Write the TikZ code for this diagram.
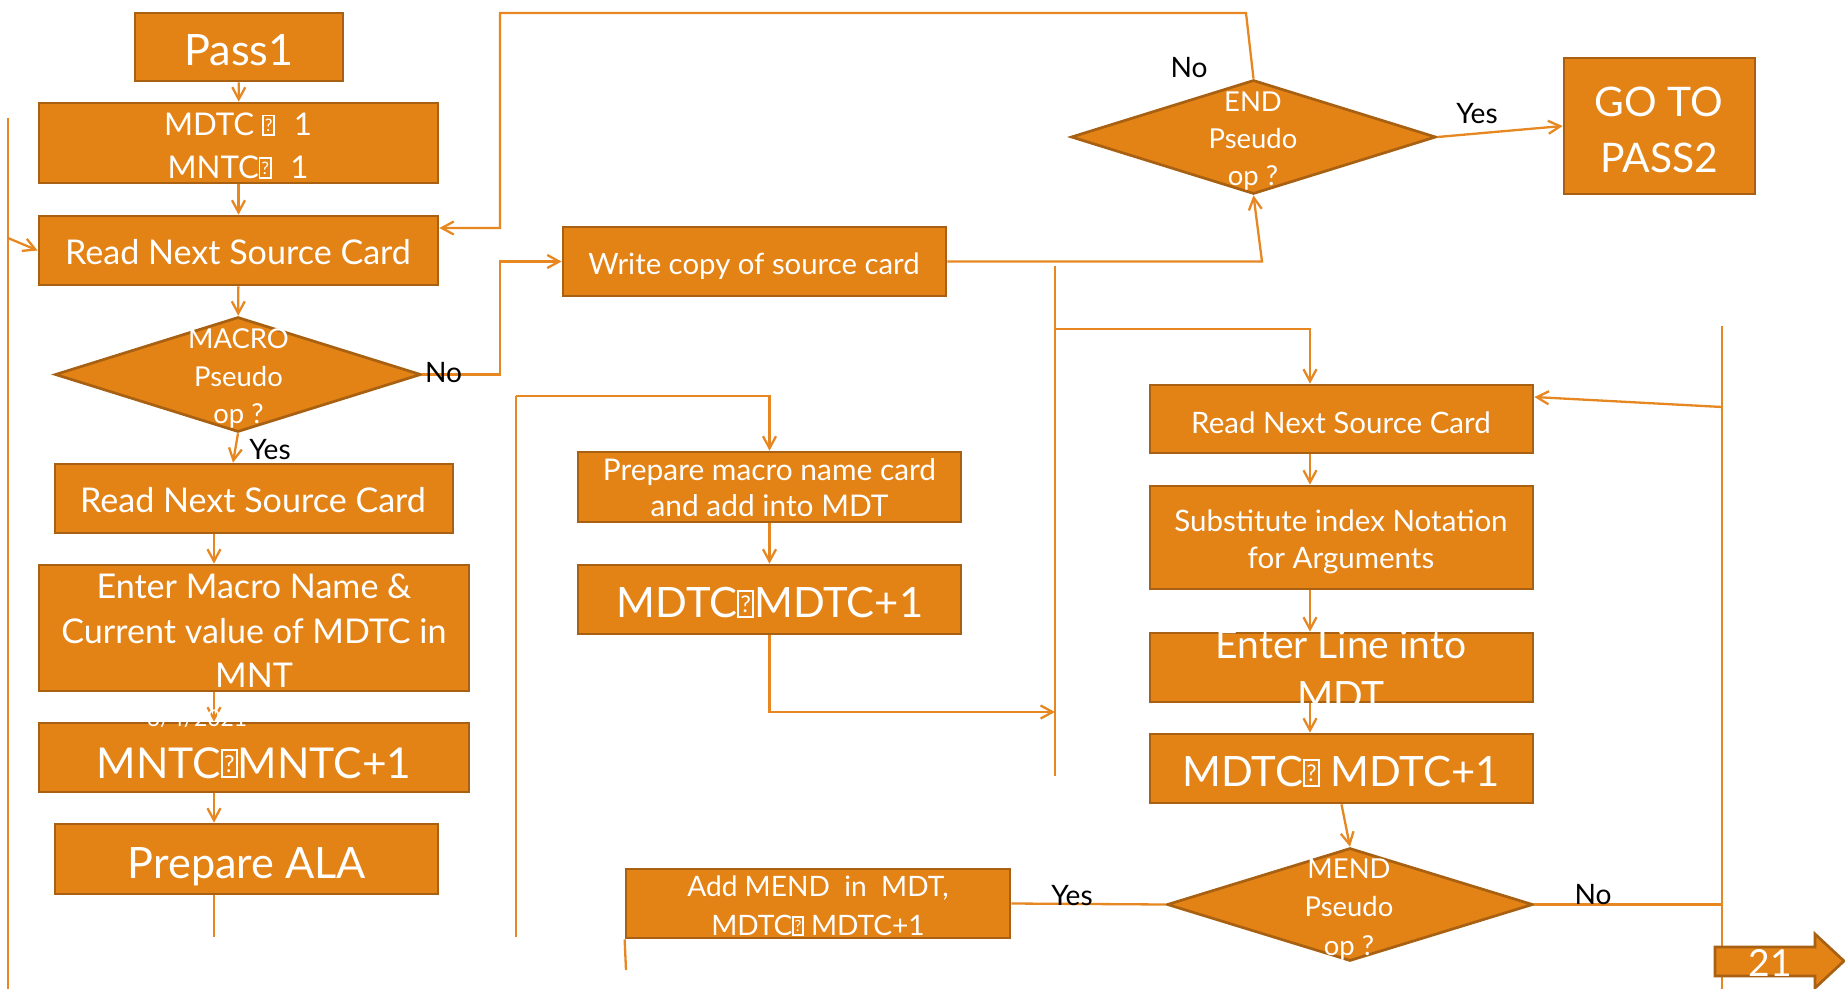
\documentclass[tikz,border=0pt]{standalone}
\usepackage{fontspec}
\setmainfont{Lato}
\usetikzlibrary{arrows.meta,shapes.geometric}
\definecolor{boxfill}{RGB}{227,130,21}
\definecolor{boxedge}{RGB}{168,97,18}
\definecolor{wirecol}{RGB}{231,135,34}
\newcommand{\fsz}[2]{\fontsize{#1}{#2}\selectfont}
\newcommand{\qbox}{\raisebox{0.08em}{\fboxsep=0.03em\fboxrule=0.05em\fbox{\rule{0pt}{0.52em}\raisebox{0.06em}{\scalebox{0.55}{?}}}}}
\tikzset{
	box/.style={draw=boxedge, fill=boxfill, line width=0.27mm, inner sep=0pt},
	dia/.style={box, diamond},
	wtxt/.style={text=white, align=center, inner sep=0pt},
	btxt/.style={text=black, inner sep=0pt, anchor=base, font=\fsz{8}{10}},
	wire/.style={draw=wirecol, line width=0.23mm},
	flow/.style={wire, -{Straight Barb[length=1.2mm,width=1.3mm]}}
}

\begin{document}
\begin{tikzpicture}[x=0.1mm, y=-0.1mm]
	%%%%% START %%%%%
	\useasboundingbox (0,0) rectangle (1845,989);
	
	% left column
	\node[box, minimum width=20.8mm, minimum height=6.8mm] (pass1) at (239,47) {};
	\node[box, minimum width=39.9mm, minimum height=8mm] (init) at (238.5,143) {};
	\node[box, minimum width=39.9mm, minimum height=6.9mm] (read1) at (238.5,250.5) {};
	\node[dia, minimum width=36.6mm, minimum height=11.5mm] (macro) at (238,374.5) {};
	\node[box, minimum width=39.8mm, minimum height=6.9mm] (read2) at (254,498.5) {};
	\node[box, minimum width=43mm, minimum height=12.6mm] (entmac) at (254,628) {};
	\node[box, minimum width=43mm, minimum height=6.9mm] (mntc) at (254,757.5) {};
	\node[box, minimum width=38.3mm, minimum height=7mm] (ala) at (246.5,859) {};
	
	% middle column
	\node[box, minimum width=38.3mm, minimum height=6.9mm] (write) at (754.5,261.5) {};
	\node[box, minimum width=38.3mm, minimum height=7mm] (prepmac) at (769.5,487) {};
	\node[box, minimum width=38.3mm, minimum height=6.9mm] (mdtcm) at (769.5,599.5) {};
	\node[box, minimum width=38.4mm, minimum height=6.9mm] (addmend) at (818,903.5) {};
	
	% right column
	\node[dia, minimum width=36.5mm, minimum height=11.4mm] (enddia) at (1253.5,137) {};
	\node[box, minimum width=19.1mm, minimum height=13.6mm] (pass2) at (1659.5,126) {};
	\node[box, minimum width=38.3mm, minimum height=6.8mm] (readr) at (1341.5,419) {};
	\node[box, minimum width=38.3mm, minimum height=10.3mm] (subst) at (1341.5,537.5) {};
	\node[box, minimum width=38.3mm, minimum height=6.9mm] (entline) at (1341.5,667.5) {};
	\node[box, minimum width=38.3mm, minimum height=6.9mm] (mdtcr) at (1341.5,768.5) {};
	\node[dia, minimum width=36.6mm, minimum height=11.3mm] (menddia) at (1350,904.5) {};
	
	% loose ends and bends
	\coordinate (lcol) at (214,0);
	\coordinate (alaend) at (214,937);
	\coordinate (ltop) at (8,118);
	\coordinate (lbot) at (8,989);
	\coordinate (ljoin) at (8,238);
	\coordinate (topr) at (1246,13);
	\coordinate (topl) at (500,13);
	\coordinate (nocol) at (500,0);
	\coordinate (wturn) at (1262,0);
	\coordinate (vtop) at (1055,266);
	\coordinate (vbot) at (1055,776);
	\coordinate (vjoin) at (1055,329);
	\coordinate (mjoin) at (1055,712);
	\coordinate (rcol) at (1310,0);
	\coordinate (mtop) at (516,396);
	\coordinate (mbot) at (516,937);
	\coordinate (amend) at (626,970);
	\coordinate (rvtop) at (1722,326);
	\coordinate (rvbot) at (1722,989);
	\coordinate (rvjoin) at (1722,407);
	
	\draw[flow] (pass1) -- (init);
	\draw[flow] (init) -- (read1);
	\draw[flow] (read1) -- (macro);
	\draw[flow] (macro.south) -- ([xshift=-2.1mm]read2.north);
	\draw[flow] (read2.south -| lcol) -- (entmac.north -| lcol);
	\draw[flow] (entmac.south -| lcol) -- (mntc.north -| lcol);
	\draw[flow] (mntc.south -| lcol) -- (ala.north -| lcol);
	\draw[wire] (ala.south -| lcol) -- (alaend);
	
	\draw[wire] (ltop) -- (lbot);
	\draw[flow] (ljoin) -- (read1.west);
	\draw[flow] (enddia.north) -- (topr) -- (topl) |- ([yshift=2.25mm]read1.east);
	\draw[flow] (macro.east) -| (nocol |- write.west) -- (write.west);
	\draw[flow] (write.east) -- (write.east -| wturn) -- (enddia.south);
	\draw[flow] (enddia.east) -- (pass2.west);
	
	\draw[wire] (mbot) -- (mtop);
	\draw[flow] (mtop) -| (prepmac.north);
	\draw[flow] (prepmac) -- (mdtcm);
	\draw[flow] (mdtcm.south) |- (mjoin);
	
	\draw[wire] (vtop) -- (vbot);
	\draw[flow] (vjoin) -| (readr.north -| rcol);
	\draw[flow] (readr.south -| rcol) -- (subst.north -| rcol);
	\draw[flow] (subst.south -| rcol) -- (entline.north -| rcol);
	\draw[flow] (entline.south -| rcol) -- (mdtcr.north -| rcol);
	\draw[flow] (mdtcr.south) -- (menddia.north);
	\draw[wire] (menddia.west) -- (addmend.east);
	\draw[wire] (addmend.south west) -- (amend);
	\draw[wire] (menddia.east) -- (menddia.east -| rvtop);
	\draw[wire] (rvtop) -- (rvbot);
	\draw[flow] (rvjoin) -- ([yshift=2.2mm]readr.east);
	
	% texts
	\node[wtxt, font=\fsz{12.3}{14}] (pass1t) at (239,50) {Pass1};
	\node[wtxt, font=\fsz{8.9}{12.2}] (initt) at (238,146) {MDTC \qbox\hspace{0.6em}1\\MNTC\qbox\hspace{0.6em}1};
	\node[wtxt, font=\fsz{9.7}{12}] (read1t) at (238,252) {Read Next Source Card};
	\node[wtxt, font=\fsz{7.8}{10.6}] (macrot) at (238.5,378.5) {MACRO\\Pseudo\\op ?};
	\node[wtxt, font=\fsz{9.7}{12}] (read2t) at (253,500.5) {Read Next Source Card};
	\node[wtxt, font=\fsz{9.7}{12.7}] (entmact) at (254,631) {Enter Macro Name \&\\Current value of MDTC in\\MNT};
	\node[wtxt, font=\fsz{12.1}{15}] (mntct) at (254,763) {MNTC\qbox{}MNTC+1};
	\node[wtxt, font=\fsz{12.3}{15}] (alat) at (247,867) {Prepare ALA};
	\node[wtxt, anchor=base, font=\fsz{6.5}{8}] (datet) at (197,726) {6/4/2021};
	
	\node[wtxt, font=\fsz{8.35}{10}] (writet) at (754,266) {Write copy of source card};
	\node[wtxt, font=\fsz{8.5}{10.2}] (prepmact) at (769.5,488) {Prepare macro name card\\and add into MDT};
	\node[wtxt, font=\fsz{11.9}{14}] (mdtcmt) at (770,603) {MDTC\qbox{}MDTC+1};
	\node[wtxt, font=\fsz{8}{11}] (addmendt) at (818,906) {Add MEND\ \ in\ \ MDT,\\MDTC\qbox{} MDTC+1};
	
	\node[wtxt, font=\fsz{7.8}{10.6}] (endt) at (1253,141) {END\\Pseudo\\op ?};
	\node[wtxt, font=\fsz{11.6}{15.9}] (pass2t) at (1659,130) {GO TO\\PASS2};
	\node[wtxt, font=\fsz{8.4}{10}] (readrt) at (1341,422.5) {Read Next Source Card};
	\node[wtxt, font=\fsz{8.4}{10.7}] (substt) at (1341,542) {Substitute index Notation\\for Arguments};
	\node[wtxt, font=\fsz{11.1}{14.6}] (entlinet) at (1341,670) {Enter Line into\\MDT};
	\node[wtxt, font=\fsz{11.9}{14}] (mdtcrt) at (1341,772) {MDTC\qbox{} MDTC+1};
	\node[wtxt, font=\fsz{7.8}{10.9}] (mendt) at (1349,909.5) {MEND\\Pseudo\\op ?};
	
	\node[btxt] (yes1) at (270,459) {Yes};
	\node[btxt] (no1) at (443.5,382) {No};
	\node[btxt] (no2) at (1189,77) {No};
	\node[btxt] (yes2) at (1477,123) {Yes};
	\node[btxt] (yes3) at (1072,905) {Yes};
	\node[btxt] (no3) at (1593,904) {No};
	
	% page number arrow
	\draw[box] (1715,947) -- (1815,947) -- (1815,934) -- (1844,961) -- (1815,988) -- (1815,976) -- (1715,976) -- cycle;
	\node[wtxt, font=\fsz{10.6}{12}] (pgnum) at (1770,963) {21};
	%%%%% END %%%%%
\end{tikzpicture}
\end{document}
